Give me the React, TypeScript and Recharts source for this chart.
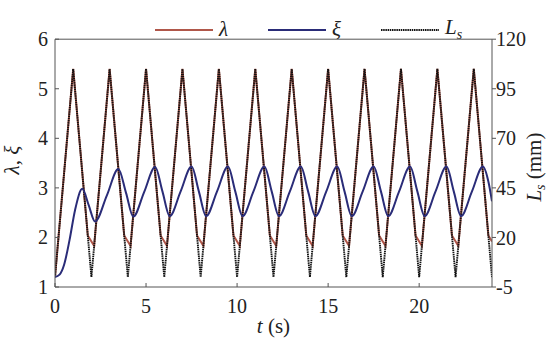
import React from 'react';
import { LineChart, Line, XAxis, YAxis, Legend, ReferenceLine, Label } from 'recharts';

// stroke length Ls (mm), read at the turning points
const lsTime = [0, 1, 2, 3, 4, 5, 6, 7, 8, 9, 10, 11, 12, 13, 14, 15, 16, 17, 18, 19, 20, 21, 22, 23, 24];
const lsValues = [0, 105, 0, 105, 0, 105, 0, 105, 0, 105, 0, 105, 0, 105, 0, 105, 0, 105, 0, 105, 0, 105, 0, 105, 0];

// lambda follows Ls but is cut off near each minimum
const lambdaTime = [
  0, 1, 1.8, 1.95, 2.15, 3, 3.8, 3.95, 4.15, 5, 5.8, 5.95, 6.15, 7, 7.8, 7.95, 8.15,
  9, 9.8, 9.95, 10.15, 11, 11.8, 11.95, 12.15, 13, 13.8, 13.95, 14.15, 15, 15.8, 15.95, 16.15,
  17, 17.8, 17.95, 18.15, 19, 19.8, 19.95, 20.15, 21, 21.8, 21.95, 22.15, 23, 23.8, 23.95, 24,
];
const lambdaValues = [
  1.2, 5.4, 2.04, 1.95, 1.83, 5.4, 2.04, 1.95, 1.83, 5.4, 2.04, 1.95, 1.83, 5.4, 2.04, 1.95, 1.83,
  5.4, 2.04, 1.95, 1.83, 5.4, 2.04, 1.95, 1.83, 5.4, 2.04, 1.95, 1.83, 5.4, 2.04, 1.95, 1.83,
  5.4, 2.04, 1.95, 1.83, 5.4, 2.04, 1.95, 1.83, 5.4, 2.04, 1.95, 1.83, 5.4, 2.04, 1.95, 1.92,
];

const xiTime = [
  0, 0.25, 0.5, 0.8, 1.1, 1.5, 1.85, 2.2, 2.85, 3.48, 3.9, 4.3,
  4.9, 5.5, 5.9, 6.3, 6.9, 7.5, 7.9, 8.3, 8.9, 9.5, 9.9, 10.3, 10.9, 11.5, 11.9, 12.3,
  12.9, 13.5, 13.9, 14.3, 14.9, 15.5, 15.9, 16.3, 16.9, 17.5, 17.9, 18.3, 18.9, 19.5, 19.9, 20.3,
  20.9, 21.5, 21.9, 22.3, 22.9, 23.5, 23.8, 24,
];
const xiValues = [
  1.2, 1.25, 1.45, 1.95, 2.55, 2.98, 2.65, 2.32, 2.85, 3.38, 2.9, 2.42,
  2.92, 3.42, 2.93, 2.43, 2.93, 3.43, 2.93, 2.43, 2.93, 3.43, 2.93, 2.43, 2.93, 3.43, 2.93, 2.43,
  2.93, 3.43, 2.93, 2.43, 2.93, 3.43, 2.93, 2.43, 2.93, 3.43, 2.93, 2.43, 2.93, 3.43, 2.93, 2.43,
  2.93, 3.43, 2.93, 2.43, 2.93, 3.43, 3.13, 2.73,
];

const xTicks = [0, 5, 10, 15, 20];
const leftTicks = [1, 2, 3, 4, 5, 6];
const rightTicks = [-5, 20, 45, 70, 95, 120];
const legendOrder = ['λ', 'ξ', 'Ls'];

const lsData = lsTime.map((t, i) => ({ t, v: lsValues[i] }));
const lambdaData = lambdaTime.map((t, i) => ({ t, v: lambdaValues[i] }));
const xiData = xiTime.map((t, i) => ({ t, v: xiValues[i] }));

const FONT = 'Liberation Serif, Times New Roman, serif';
const AXIS = '#555';
const RED = '#b0574a';
const BLUE = '#2a2c78';
const LS_DASH = '1.5 0.7';

const BottomTick = (props: any) => {
  const { x, y, payload } = props;
  return (
    <g>
      <line x1={x} x2={x} y1={y - 12} y2={y - 16} stroke={AXIS} />
      <text x={x} y={y} dy="0.71em" textAnchor="middle" style={{ fontFamily: FONT }} fontSize={20} fill="#222">
        {payload.value}
      </text>
    </g>
  );
};

const LeftTick = (props: any) => {
  const { x, y, payload } = props;
  return (
    <g>
      <line x1={x + 7} x2={x + 11} y1={y} y2={y} stroke={AXIS} />
      <text x={x} y={y} dy="0.35em" textAnchor="end" style={{ fontFamily: FONT }} fontSize={20} fill="#222">
        {payload.value}
      </text>
    </g>
  );
};

const legendLabel = (name: string) => {
  if (name === 'Ls') {
    return (
      <span style={{ fontStyle: 'italic' }}>
        L<sub style={{ fontSize: 14 }}>s</sub>
      </span>
    );
  }
  return <span style={{ fontStyle: 'italic' }}>{name}</span>;
};

const renderLegend = (props: any) => {
  const items = [...(props.payload || [])].sort(
    (a: any, b: any) => legendOrder.indexOf(a.value) - legendOrder.indexOf(b.value)
  );
  return (
    <div style={{ display: 'flex', alignItems: 'center', fontFamily: FONT, fontSize: 21, color: '#222', lineHeight: 1 }}>
      {items.map((item: any) => {
        const dotted = item.value === 'Ls';
        return (
          <div key={item.value} style={{ display: 'flex', alignItems: 'center', marginRight: 40 }}>
            <svg width={58} height={6} style={{ marginRight: 6 }}>
              <line
                x1={0}
                x2={58}
                y1={3}
                y2={3}
                stroke={item.color}
                strokeWidth={dotted ? 1.9 : 2}
                strokeDasharray={dotted ? LS_DASH : undefined}
              />
            </svg>
            {legendLabel(item.value)}
          </div>
        );
      })}
    </div>
  );
};

export default function App() {
  return (
    <div style={{ position: 'fixed', left: 0, top: 0, background: '#fff', fontFamily: FONT }}>
      <LineChart width={550} height={345} margin={{ top: 14, right: 0, bottom: 0, left: 0 }}>
        <XAxis
          type="number"
          dataKey="t"
          domain={[0, 24]}
          ticks={xTicks}
          allowDataOverflow
          height={58}
          tickSize={0}
          tickMargin={12}
          tickLine={false}
          axisLine={{ stroke: AXIS }}
          tick={<BottomTick />}
        >
          <Label
            content={(p: any) => {
              const vb = p.viewBox;
              return (
                <text x={vb.x + vb.width / 2} y={vb.y + 46} textAnchor="middle" style={{ fontFamily: FONT }} fontSize={21} fill="#222">
                  <tspan fontStyle="italic">t</tspan> (s)
                </text>
              );
            }}
          />
        </XAxis>
        <YAxis
          yAxisId="left"
          type="number"
          domain={[1, 6]}
          ticks={leftTicks}
          width={55}
          tickSize={0}
          tickMargin={7}
          tickLine={false}
          axisLine={{ stroke: AXIS }}
          tick={<LeftTick />}
        >
          <Label
            content={(p: any) => {
              const vb = p.viewBox;
              const cy = vb.y + vb.height / 2;
              return (
                <text
                  transform={`translate(19, ${cy - 3}) rotate(-90)`}
                  textAnchor="middle"
                  style={{ fontFamily: FONT }}
                  fontSize={21}
                  fill="#222"
                >
                  <tspan fontStyle="italic">λ</tspan>, <tspan fontStyle="italic">ξ</tspan>
                </text>
              );
            }}
          />
        </YAxis>
        <YAxis
          yAxisId="right"
          orientation="right"
          type="number"
          domain={[-5, 120]}
          ticks={rightTicks}
          width={58}
          tickSize={4}
          tickMargin={0}
          tickLine={{ stroke: AXIS }}
          axisLine={{ stroke: AXIS }}
          tick={{ fontSize: 20, fill: '#222', style: { fontFamily: FONT } }}
        >
          <Label
            content={(p: any) => {
              const vb = p.viewBox;
              const cy = vb.y + vb.height / 2;
              return (
                <text
                  transform={`translate(${vb.x + 49}, ${cy + 4}) rotate(-90)`}
                  textAnchor="middle"
                  style={{ fontFamily: FONT }}
                  fontSize={21}
                  fill="#222"
                >
                  <tspan fontStyle="italic">L</tspan>
                  <tspan fontStyle="italic" fontSize={14} dy={4}>s</tspan>
                  <tspan dy={-4}> (mm)</tspan>
                </text>
              );
            }}
          />
        </YAxis>
        <ReferenceLine yAxisId="left" y={6} stroke={AXIS} />
        <Legend
          verticalAlign="top"
          content={renderLegend}
          wrapperStyle={{ position: 'absolute', left: 155, top: 17, width: 340 }}
        />
        <Line
          yAxisId="left"
          data={lambdaData}
          dataKey="v"
          name="λ"
          type="linear"
          stroke={RED}
          strokeWidth={2}
          dot={false}
          isAnimationActive={false}
        />
        <Line
          yAxisId="right"
          data={lsData}
          dataKey="v"
          name="Ls"
          type="linear"
          stroke="#111"
          strokeWidth={1.9}
          strokeDasharray={LS_DASH}
          dot={false}
          isAnimationActive={false}
        />
        <Line
          yAxisId="left"
          data={xiData}
          dataKey="v"
          name="ξ"
          type="monotone"
          stroke={BLUE}
          strokeWidth={2}
          dot={false}
          isAnimationActive={false}
        />
      </LineChart>
    </div>
  );
}
